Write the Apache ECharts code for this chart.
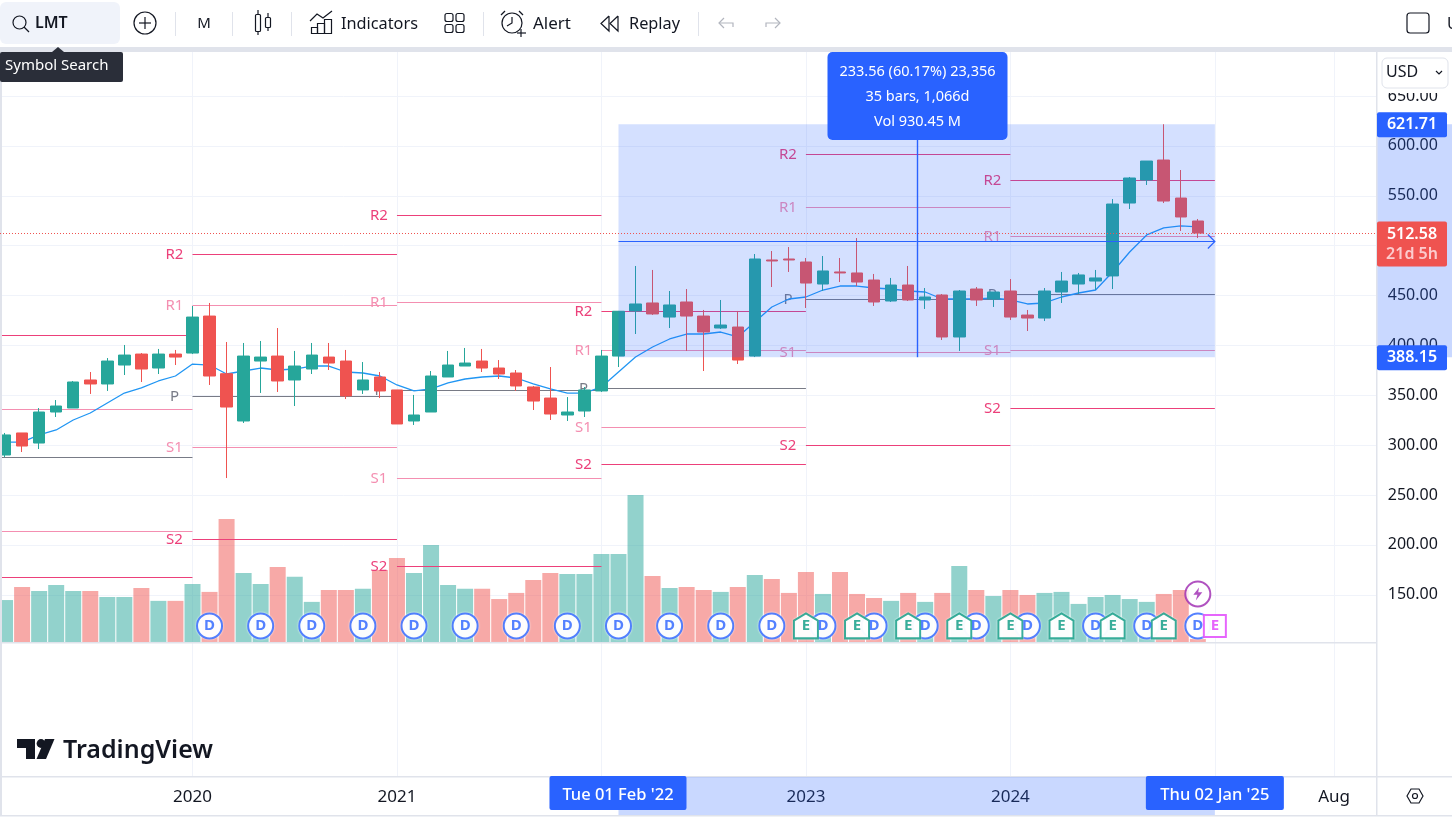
<!DOCTYPE html>
<html>
<head>
<meta charset="utf-8">
<title>LMT</title>
<script src="https://cdn.jsdelivr.net/npm/echarts@6/dist/echarts.min.js"></script>
<style>
html, body { margin: 0; padding: 0; background: #fff; }
#container { width: 1452px; height: 819px; }
</style>
</head>
<body>
<div id="container"></div>
<script>
var months = [
  '2019-02','2019-03','2019-04','2019-05','2019-06','2019-07','2019-08','2019-09','2019-10','2019-11','2019-12',
  '2020-01','2020-02','2020-03','2020-04','2020-05','2020-06','2020-07','2020-08','2020-09','2020-10','2020-11','2020-12',
  '2021-01','2021-02','2021-03','2021-04','2021-05','2021-06','2021-07','2021-08','2021-09','2021-10','2021-11','2021-12',
  '2022-01','2022-02','2022-03','2022-04','2022-05','2022-06','2022-07','2022-08','2022-09','2022-10','2022-11','2022-12',
  '2023-01','2023-02','2023-03','2023-04','2023-05','2023-06','2023-07','2023-08','2023-09','2023-10','2023-11','2023-12',
  '2024-01','2024-02','2024-03','2024-04','2024-05','2024-06','2024-07','2024-08','2024-09','2024-10','2024-11','2024-12',
  '2025-01','2025-02','2025-03','2025-04','2025-05','2025-06','2025-07','2025-08','2025-09','2025-10'
];
var openPrice = [290.1,312.2,302.1,333.2,337.2,365.3,361.3,380.3,391.3,377.3,391.3,392.3,429.4,371.6,324.2,384.3,389.3,365.3,376.3,388.3,384.3,355.3,368.3,355.3,324.2,333.2,368.3,379.3,384.3,377.3,372.3,358.3,347.2,330.2,334.2,354.3,389.3,434.5,442.5,428.4,443.5,429.4,417.4,418.4,389.3,485.6,486.6,483.6,461.5,473.6,472.6,465.5,444.5,460.5,445.5,450.5,408.4,456.5,446.5,454.5,430.4,427.4,453.5,461.5,464.5,469.6,542.7,565.8,585.8,547.7,524.7];
var closePrice = [310.2,299.1,333.2,339.2,363.3,361.3,384.3,390.3,376.3,391.3,388.3,428.4,369.3,338.2,389.3,388.3,364.3,379.3,390.3,382.3,349.3,365.3,354.3,321.2,330.2,369.3,380.3,382.3,377.3,371.3,359.3,344.2,331.2,333.2,355.3,389.3,434.2,441.5,431.5,440.5,429.4,413.4,420.4,385.3,486.6,484.6,485.6,462.5,474.6,472.6,463.5,443.5,460.5,445.5,448.5,408.4,454.5,445.5,453.5,428.4,427.4,454.5,464.5,470.6,467.6,541.7,567.8,584.8,544.7,528.7,512.58];
var lowPrice = [288.1,293.1,296.1,328.2,337.2,351.3,354.3,370.3,363.3,371.3,380.3,391.3,360.3,267.0,322.2,352.3,353.3,339.2,371.3,375.3,346.2,351.3,347.2,321.2,320.2,333.2,368.3,379.3,373.3,366.3,354.3,335.2,325.2,324.2,328.2,353.3,378.3,411.4,430.5,417.4,394.4,374.3,416.4,381.3,388.3,458.5,473.6,437.5,454.5,463.5,459.5,439.5,443.5,444.5,436.5,405.4,394.4,439.5,438.5,425.4,414.4,424.4,442.5,451.5,455.5,456.5,536.7,560.8,542.7,514.7,507.6];
var highPrice = [312.2,312.2,337.2,345.2,364.3,373.3,387.3,400.4,392.3,396.4,395.4,439.5,442.5,403.4,402.4,404.4,417.4,394.4,402.4,402.4,395.4,383.3,373.3,355.3,350.3,374.3,394.4,397.4,396.4,385.3,375.3,359.3,378.3,348.2,358.3,395.4,434.5,479.6,475.6,454.5,456.5,435.5,445.5,434.5,491.6,494.6,498.6,487.6,489.6,487.6,507.6,471.6,467.6,479.6,457.5,451.5,455.5,458.5,453.5,466.5,435.5,457.5,473.6,472.6,475.6,546.7,568.8,584.8,621.71,575.8,526.7];
var volumeM = [20.6,27.0,25.1,28.0,25.1,25.1,22.1,22.1,26.5,20.2,20.2,28.5,24.6,60.5,33.9,28.5,36.9,32.0,19.7,25.6,25.6,26.1,35.4,41.3,33.9,47.7,28.0,26.1,26.1,21.1,24.1,30.5,33.9,33.4,33.4,43.3,43.3,72.3,32.4,26.5,27.0,25.6,24.6,27.0,32.9,31.0,24.1,34.4,23.6,34.4,23.6,21.6,20.2,24.1,19.7,24.1,37.4,25.6,22.6,25.6,23.1,24.1,24.6,18.7,22.1,23.1,21.1,19.7,23.6,25.6,1.5];
var emaLine = [303.1,303.1,310.2,315.2,325.2,332.2,342.2,352.2,357.3,364.3,369.3,381.3,380.3,371.3,374.3,377.3,375.3,376.3,379.3,379.3,373.3,372.3,369.3,360.3,354.3,356.3,362.3,366.3,368.3,369.3,367.3,361.3,356.3,352.2,352.2,358.3,373.3,388.3,398.4,406.4,411.4,411.4,413.4,408.4,423.4,438.5,446.5,448.5,455.5,459.5,459.5,457.5,456.5,454.5,453.5,446.5,446.5,446.5,447.5,445.5,441.5,442.5,448.5,452.5,455.5,473.6,493.6,510.7,517.7,519.7,518.7];

// yearly pivots, one value per year from 2019 to 2024
var pivotYearStart = [-1,11,23,35,47,59];
var pivotR2 = [410.1,491.3,530.6,434.2,591.6,565.5];
var pivotR1 = [336.0,440.1,443.0,395.1,538.5,509.4];
var pivotP = [288.1,349.0,355.0,356.9,446.0,451.2];
var pivotS1 = [214.4,297.9,266.7,318.2,393.0,395.1];
var pivotS2 = [167.5,205.6,178.4,280.8,299.9,337.2];

var priceTicks = [150,200,250,300,350,400,450,500,550,600,650];
var xTickMonths = ['2020-01','2021-01','2022-01','2023-01','2024-01','2025-01','2025-08'];
var xTickLabels = ['2020','2021','2022','2023','2024','2025','Aug'];

var dividendMonths = [12,15,18,21,24,27,30,33,36,39,42,45,48,51,54,57,60,64,67,70];
var earningsMonths = [47,50,53,56,59,62,65,68];
var nextEarningsMonth = [71];
var alertMonth = [70];

var measureStart = 36, measureEnd = 71, measureLow = 388.15, measureHigh = 621.71;
var measureLines = ['233.56 (60.17%) 23,356', '35 bars, 1,066d', 'Vol 930.45 M'];
var measureStartLabel = "Tue 01 Feb '22", measureEndLabel = "Thu 02 Jan '25";
var lastPrice = 512.58, lastCountdown = '21d 5h';

var FONT = '"Noto Sans", sans-serif';
var UP = '#26A69A', DOWN = '#EF5350', BLUE = '#2962FF', INK = '#131722', RULE = '#E0E3EB';
var PLOT_RIGHT = 1376;

var candleData = openPrice.map(function (o, i) {
  return [o, closePrice[i], lowPrice[i], highPrice[i]];
});
var volumeData = volumeM.map(function (v, i) {
  return {
    value: v,
    itemStyle: { color: closePrice[i] >= openPrice[i] ? 'rgba(38,166,154,0.5)' : 'rgba(239,83,80,0.5)' }
  };
});

var pivotLevels = [
  { name: 'R2', values: pivotR2, color: '#EC407A' },
  { name: 'R1', values: pivotR1, color: '#F48FB1' },
  { name: 'P', values: pivotP, color: '#787B86' },
  { name: 'S1', values: pivotS1, color: '#F48FB1' },
  { name: 'S2', values: pivotS2, color: '#EC407A' }
];
var pivotRows = [];
pivotLevels.forEach(function (level) {
  level.values.forEach(function (v, i) {
    pivotRows.push({ start: pivotYearStart[i], end: pivotYearStart[i] + 12, value: v, name: level.name, color: level.color });
  });
});

function renderPivot(params, api) {
  var row = pivotRows[params.dataIndex];
  var a = api.coord([row.start, row.value]);
  var b = api.coord([row.end, row.value]);
  var y = Math.round(a[1]) + 0.5;
  return {
    type: 'group',
    children: [
      { type: 'line', shape: { x1: a[0], y1: y, x2: b[0], y2: y }, style: { stroke: row.color, lineWidth: 1 } },
      { type: 'text', x: a[0] - 18, y: y, style: { text: row.name, fill: row.color, font: '15px ' + FONT, textAlign: 'center', textVerticalAlign: 'middle' } }
    ]
  };
}

function tag(x, y, w, h, color, text, font, textShift) {
  return [
    { type: 'rect', shape: { x: x, y: y, width: w, height: h, r: 2 }, style: { fill: color } },
    { type: 'text', x: x + w / 2, y: y + h / 2 + textShift, style: { text: text, fill: '#fff', font: font + ' ' + FONT, textAlign: 'center', textVerticalAlign: 'middle' } }
  ];
}

// measure tool box, its guide lines and every tag on the two axes
function renderOverlay(params, api) {
  var lt = api.coord([measureStart, measureHigh]);
  var rb = api.coord([measureEnd, measureLow]);
  var midX = Math.round((lt[0] + rb[0]) / 2) + 0.5;
  var midY = Math.round((lt[1] + rb[1]) / 2) + 0.5;
  var lastY = Math.round(api.coord([measureEnd, lastPrice])[1]) + 0.5;
  var kids = [
    { type: 'rect', shape: { x: lt[0], y: lt[1], width: rb[0] - lt[0], height: rb[1] - lt[1] }, style: { fill: 'rgba(41,98,255,0.2)' } },
    { type: 'rect', shape: { x: PLOT_RIGHT + 1.5, y: lt[1], width: 75, height: rb[1] - lt[1] }, style: { fill: 'rgba(41,98,255,0.25)' } },
    { type: 'rect', shape: { x: lt[0], y: 777, width: rb[0] - lt[0], height: 38 }, style: { fill: 'rgba(41,98,255,0.25)' } },
    { type: 'line', shape: { x1: 0, y1: lastY, x2: PLOT_RIGHT, y2: lastY }, style: { stroke: DOWN, lineWidth: 1, lineDash: [1, 2] } },
    { type: 'line', shape: { x1: lt[0], y1: midY, x2: rb[0], y2: midY }, style: { stroke: BLUE, lineWidth: 1 } },
    { type: 'line', shape: { x1: midX, y1: lt[1], x2: midX, y2: rb[1] }, style: { stroke: BLUE, lineWidth: 1.4 } },
    { type: 'polyline', shape: { points: [[rb[0] - 7, midY - 7], [rb[0], midY], [rb[0] - 7, midY + 7]] }, style: { stroke: BLUE, fill: 'none', lineWidth: 1.2 } },
    { type: 'rect', shape: { x: midX - 90, y: 52, width: 180, height: 88, r: 5 }, style: { fill: BLUE } }
  ];
  measureLines.forEach(function (s, i) {
    kids.push({ type: 'text', x: midX, y: 72 + i * 25, style: { text: s, fill: '#fff', font: '14.5px ' + FONT, textAlign: 'center', textVerticalAlign: 'middle' } });
  });
  kids = kids.concat(tag(PLOT_RIGHT + 1, lt[1] - 12, 70, 25, BLUE, measureHigh.toFixed(2), '600 16px', 0));
  kids = kids.concat(tag(PLOT_RIGHT + 1, rb[1] - 12, 70, 25, BLUE, measureLow.toFixed(2), '600 16px', 0));
  kids = kids.concat(tag(lt[0] - 69, 776, 137, 34, BLUE, measureStartLabel, '500 16.5px', 2));
  kids = kids.concat(tag(rb[0] - 69, 776, 138, 34, BLUE, measureEndLabel, '500 16.5px', 2));
  kids.push({ type: 'rect', shape: { x: PLOT_RIGHT + 1, y: lastY - 12, width: 70, height: 45, r: 2 }, style: { fill: DOWN } });
  kids.push({ type: 'text', x: PLOT_RIGHT + 36, y: lastY + 1, style: { text: lastPrice.toFixed(2), fill: '#fff', font: '600 16px ' + FONT, textAlign: 'center', textVerticalAlign: 'middle' } });
  kids.push({ type: 'text', x: PLOT_RIGHT + 36, y: lastY + 21, style: { text: lastCountdown, fill: '#FCCBCD', font: '600 16px ' + FONT, textAlign: 'center', textVerticalAlign: 'middle' } });
  return { type: 'group', children: kids };
}

function eventSeries(name, data, symbol, size, color, text) {
  return {
    name: name,
    type: 'scatter',
    xAxisIndex: 0,
    yAxisIndex: 1,
    z: 4,
    silent: true,
    symbol: symbol,
    symbolSize: size,
    itemStyle: { color: '#fff', borderColor: color, borderWidth: 2, shadowBlur: 2, shadowColor: '#fff' },
    label: { show: true, position: 'inside', formatter: text, color: color, fontFamily: FONT, fontSize: 15, fontWeight: 700 },
    data: data.map(function (m) { return [m, 7.9]; })
  };
}

// toolbar, separators and the other page furniture
function rect(x, y, w, h, fill, z, r) {
  return { type: 'rect', z: z, shape: { x: x, y: y, width: w, height: h, r: r || 0 }, style: { fill: fill } };
}
function label(x, y, s, size, z, weight, color, align) {
  return {
    type: 'text', z: z, x: x, y: y,
    style: { text: s, fill: color || INK, font: (weight || 'normal') + ' ' + size + 'px ' + FONT, textAlign: align || 'left', textVerticalAlign: 'middle' }
  };
}
function stroke(points, color, width) {
  return { type: 'polyline', z: 21, shape: { points: points }, style: { stroke: color || INK, fill: 'none', lineWidth: width || 1.2 } };
}
function ring(cx, cy, r, color) {
  return { type: 'circle', z: 21, shape: { cx: cx, cy: cy, r: r }, style: { stroke: color || INK, fill: 'none', lineWidth: 1.2 } };
}
function outline(x, y, w, h, r, color) {
  return { type: 'rect', z: 21, shape: { x: x, y: y, width: w, height: h, r: r || 0 }, style: { stroke: color || INK, fill: 'none', lineWidth: 1.2 } };
}

var chrome = [
  rect(0, 0, 1452, 47, '#fff', 20),
  rect(0, 47, 1452, 5, RULE, 20),
  rect(0, 48, 2, 767, RULE, 8),
  rect(0, 642, PLOT_RIGHT, 1.5, RULE, 8),
  rect(0, 776, 1452, 1.5, RULE, 8),
  rect(0, 815, 1452, 1.5, RULE, 8),
  rect(PLOT_RIGHT, 52, 1.5, 763, RULE, 8),

  rect(0, 2, 120, 42, '#F0F3FA', 20, 6),
  ring(19.5, 22.5, 6.5), stroke([[24, 27], [29, 32]]),
  label(35, 23, 'LMT', 16, 21, 600),
  ring(145, 23, 11), stroke([[145, 17], [145, 29]]), stroke([[139, 23], [151, 23]]),
  rect(175, 12, 1, 24, RULE, 21),
  label(204, 24, 'M', 15, 21, 'normal', INK, 'center'),
  rect(232, 12, 1, 24, RULE, 21),
  outline(255.5, 14.5, 5, 17, 1), stroke([[258, 10], [258, 14]]), stroke([[258, 32], [258, 35]]),
  outline(265.5, 17.5, 5, 10, 1), stroke([[268, 13], [268, 17]]), stroke([[268, 28], [268, 31]]),
  rect(291, 12, 1, 24, RULE, 21),
  stroke([[310, 21], [317, 14], [323, 18], [332, 11]]),
  outline(311.5, 27.5, 6, 6), outline(317.5, 23.5, 7, 10), outline(324.5, 19.5, 7, 14),
  label(341, 24, 'Indicators', 16.3, 21),
  outline(445, 13.5, 8, 8, 2), outline(456, 13.5, 8, 8, 2), outline(445, 24.5, 8, 8, 2), outline(456, 24.5, 8, 8, 2),
  rect(483, 12, 1, 24, RULE, 21),
  ring(512, 23, 10), stroke([[512, 17], [512, 23], [507, 26]]),
  stroke([[501, 15], [505, 11]]), stroke([[519, 11], [523, 15]]),
  stroke([[521, 29], [521, 37]]), stroke([[517, 33], [526, 33]]),
  label(533, 24, 'Alert', 17, 21),
  stroke([[609, 16], [601, 23.5], [609, 31], [609, 16]]), stroke([[618, 16], [610, 23.5], [618, 31], [618, 16]]),
  label(629, 24, 'Replay', 16.3, 21),
  rect(698, 12, 1, 24, RULE, 21),
  stroke([[733, 27], [733, 23], [719, 23]], '#B2B5BE'), stroke([[724, 18], [719, 23], [724, 28]], '#B2B5BE'),
  stroke([[766, 27], [766, 23], [780, 23]], '#B2B5BE'), stroke([[775, 18], [780, 23], [775, 28]], '#B2B5BE'),
  outline(1407, 13, 22, 20, 3),
  label(1447, 24, 'U', 16, 21),

  { type: 'polygon', z: 21, shape: { points: [[52, 52], [58, 47], [64, 52]] }, style: { fill: '#2A2E39' } },
  rect(0, 52, 123, 30, '#2A2E39', 21, 2),
  label(5, 66, 'Symbol Search', 15, 22, 'normal', '#fff'),

  rect(PLOT_RIGHT + 2, 52, 74, 41, '#fff', 20),
  { type: 'rect', z: 21, shape: { x: 1382, y: 58, width: 66, height: 30, r: 5 }, style: { fill: '#fff', stroke: RULE, lineWidth: 1 } },
  label(1386, 72, 'USD', 16, 22),
  stroke([[1436, 71], [1439, 74], [1442, 71]]),

  { type: 'polygon', z: 21, shape: { points: [[17, 739], [35, 739], [35, 759], [26, 759], [26, 748], [17, 748]] }, style: { fill: INK } },
  { type: 'circle', z: 21, shape: { cx: 41, cy: 743.5, r: 4.4 }, style: { fill: INK } },
  { type: 'polygon', z: 21, shape: { points: [[45, 739], [54.5, 739], [46, 759], [36.5, 759]] }, style: { fill: INK } },
  label(63, 751, 'TradingView', 25, 21, 600),

  { type: 'polygon', z: 21, shape: { points: [[1407, 796], [1411, 789], [1419, 789], [1423, 796], [1419, 803], [1411, 803]] }, style: { stroke: INK, fill: 'none', lineWidth: 1.2 } },
  ring(1415, 796, 2.5)
];

var chart = echarts.init(document.getElementById('container'));

var option = {
  animation: false,
  grid: { left: -3.46, top: 48, width: 1380.2, height: 728, containLabel: false, outerBoundsMode: 'none' },
  xAxis: [{
    type: 'category',
    data: months,
    boundaryGap: true,
    axisLine: { show: false },
    axisTick: { show: false },
    axisLabel: {
      margin: 13,
      color: INK,
      fontFamily: FONT,
      fontSize: 17,
      interval: function (i, v) { return xTickMonths.indexOf(v) >= 0; },
      formatter: function (v) { return xTickLabels[xTickMonths.indexOf(v)]; }
    },
    splitLine: {
      show: true,
      alignWithLabel: true,
      interval: function (i, v) { return xTickMonths.indexOf(v) >= 0; },
      lineStyle: { color: '#F0F3FA', width: 1 }
    }
  }],
  yAxis: [{
    type: 'value',
    position: 'right',
    min: -31.7,
    max: 698.12,
    axisLine: { show: false },
    axisTick: { show: false, customValues: priceTicks },
    axisLabel: {
      customValues: priceTicks,
      margin: 11,
      padding: [4, 0, 0, 0],
      color: INK,
      fontFamily: FONT,
      fontSize: 16,
      formatter: function (v) { return v.toFixed(2); }
    },
    splitLine: { show: true, lineStyle: { color: '#F0F3FA', width: 1 } }
  }, {
    type: 'value',
    show: false,
    min: -65.9,
    max: 292,
    splitLine: { show: false }
  }],
  graphic: { elements: chrome },
  series: [
    {
      name: 'Volume',
      type: 'bar',
      xAxisIndex: 0,
      yAxisIndex: 1,
      z: 1,
      barWidth: 16,
      silent: true,
      data: volumeData
    },
    {
      name: 'Pivots',
      type: 'custom',
      xAxisIndex: 0,
      yAxisIndex: 0,
      z: 2,
      silent: true,
      clip: false,
      renderItem: renderPivot,
      data: pivotRows.map(function (r, i) { return [i, r.value]; }),
      encode: { x: 0, y: 1 }
    },
    {
      name: 'EMA',
      type: 'line',
      xAxisIndex: 0,
      yAxisIndex: 0,
      z: 3,
      silent: true,
      symbol: 'none',
      smooth: false,
      lineStyle: { color: '#2196F3', width: 1.3 },
      data: emaLine
    },
    {
      name: 'LMT',
      type: 'candlestick',
      xAxisIndex: 0,
      yAxisIndex: 0,
      z: 3.5,
      silent: true,
      barWidth: 12,
      itemStyle: { color: UP, color0: DOWN, borderColor: UP, borderColor0: DOWN, borderWidth: 1 },
      data: candleData
    },
    eventSeries('Dividends', dividendMonths, 'circle', 25, BLUE, 'D'),
    eventSeries('Earnings', earningsMonths, 'path://M12 0 L24 7 V24 H0 V7 Z', [24, 25], '#089981', 'E'),
    eventSeries('Next earnings', nextEarningsMonth, 'rect', 22, '#E040FB', 'E'),
    {
      name: 'Alert',
      type: 'scatter',
      xAxisIndex: 0,
      yAxisIndex: 1,
      z: 4,
      silent: true,
      symbol: 'circle',
      symbolSize: 25,
      itemStyle: { color: '#fff', borderColor: '#9C27B0', borderWidth: 2 },
      data: alertMonth.map(function (m) { return [m, 23.6]; })
    },
    {
      name: 'Alert bolt',
      type: 'scatter',
      xAxisIndex: 0,
      yAxisIndex: 1,
      z: 4.5,
      silent: true,
      symbol: 'path://M7 0 L0 9 H5 L3 16 L11 6 H6 Z',
      symbolSize: [9, 13],
      itemStyle: { color: '#9C27B0' },
      data: alertMonth.map(function (m) { return [m, 23.6]; })
    },
    {
      name: 'Measure',
      type: 'custom',
      xAxisIndex: 0,
      yAxisIndex: 0,
      z: 10,
      silent: true,
      clip: false,
      renderItem: renderOverlay,
      data: [[measureStart, measureLow]],
      encode: { x: 0, y: 1 }
    }
  ]
};
chart.setOption(option);
</script>
</body>
</html>
